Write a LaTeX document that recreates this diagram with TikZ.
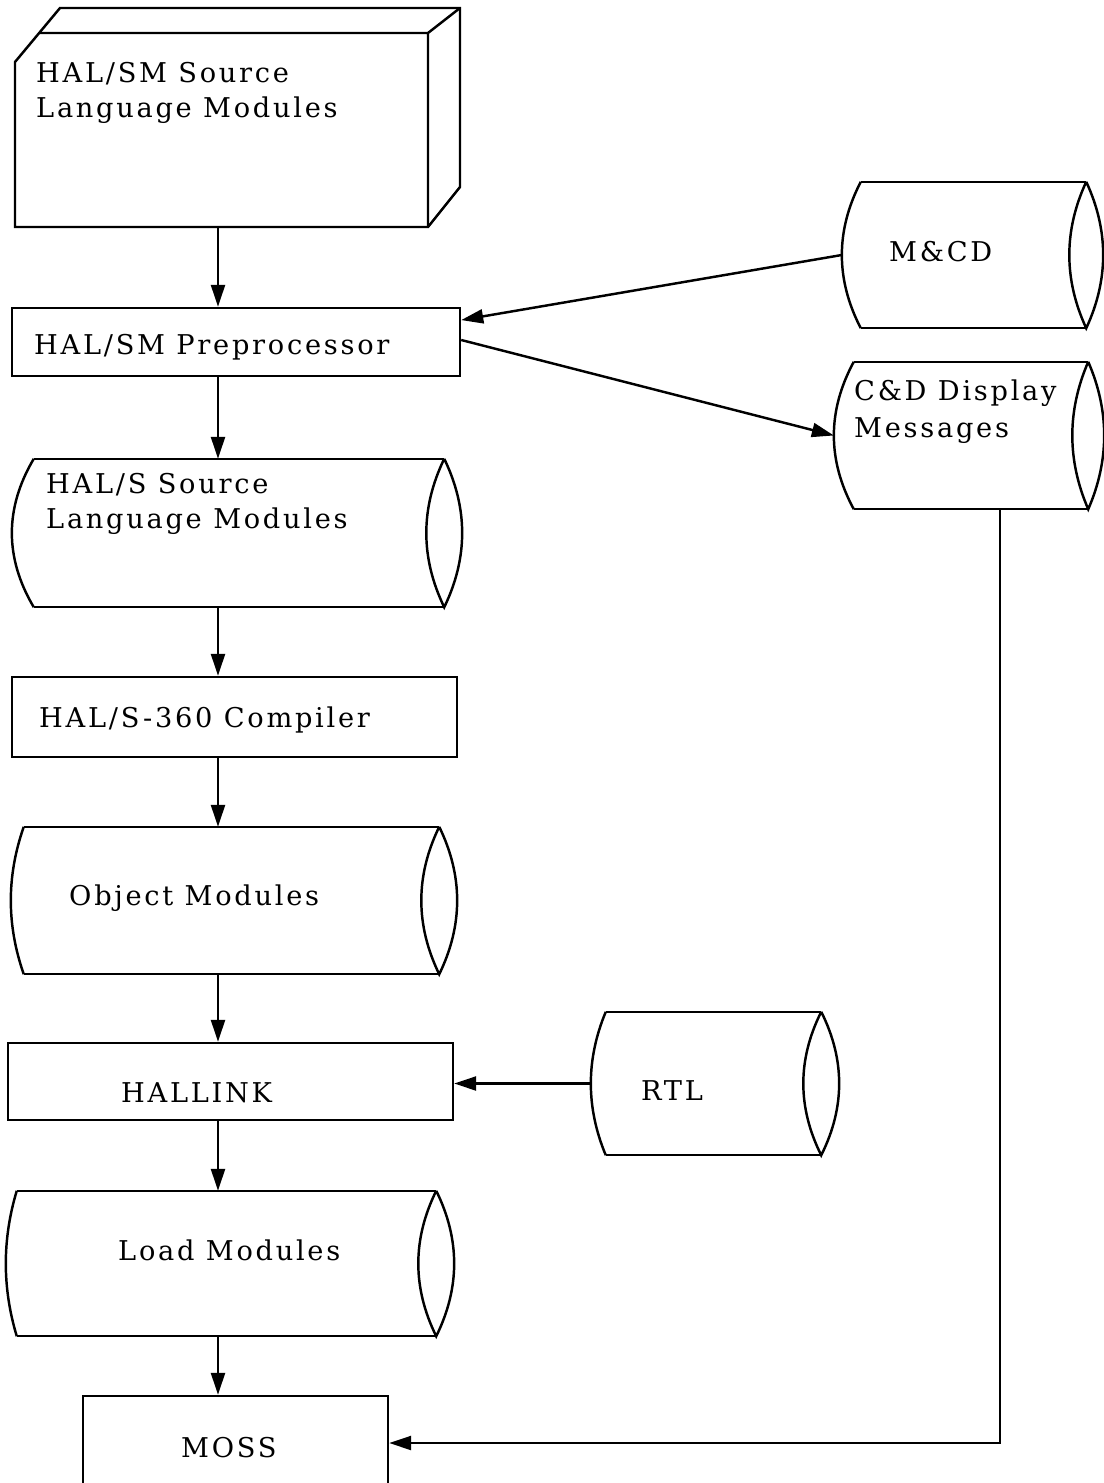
\documentclass[tikz,border=0pt]{standalone}
\usepackage{fontspec}
\setmainfont{DejaVu Serif}[LetterSpace=10]
\usetikzlibrary{arrows.meta,calc,fit}

% one drawing unit = 0.02cm = 0.56693pt
\def\px{0.56693pt}

% drum (magnetic storage) outline around a body node:
% #1 node name, #2 bulge of the left end, #3 half width of the right lens
% each end is a quadratic arc, written as a cubic with 2/3 control points
\newcommand{\drum}[3]{%
  \coordinate (#1-lc) at ([xshift={-2*#2*\px}]#1.west);
  \coordinate (#1-ri) at ([xshift={-2*#3*\px}]#1.east);
  \coordinate (#1-ro) at ([xshift={2*#3*\px}]#1.east);
  \draw (#1.north west) -- (#1.north east) (#1.south west) -- (#1.south east);
  \draw (#1.north west) .. controls ($(#1.north west)!0.6667!(#1-lc)$)
        and ($(#1.south west)!0.6667!(#1-lc)$) .. (#1.south west);
  \draw (#1.north east) .. controls ($(#1.north east)!0.6667!(#1-ri)$)
        and ($(#1.south east)!0.6667!(#1-ri)$) .. (#1.south east)
        .. controls ($(#1.south east)!0.6667!(#1-ro)$)
        and ($(#1.north east)!0.6667!(#1-ro)$) .. (#1.north east);
  \coordinate (#1-left) at ([xshift={-#2*\px}]#1.west);
}

\begin{document}
\begin{tikzpicture}[x=0.02cm, y=-0.02cm, line width=1.4pt,
  txt/.style={anchor=base west, inner sep=0pt, font=\fontsize{15.5}{18}\selectfont},
  procbox/.style={draw, rectangle, inner sep=0pt},
  drumbody/.style={rectangle, inner sep=0pt},
  flow/.style={-{Triangle[length=0.44cm, width=0.28cm]}}]

\useasboundingbox (0,0) rectangle (1103,1483);

% vertical spine of the main flow and the return trunk on the right
\coordinate (spine) at (218,0);
\coordinate (trunk) at (1000,0);

% source deck: a solid block drawn in perspective
\node[drumbody, fit={(15,33) (428,227)}] (deck) {};
\draw (15,227) -- (15,62) -- (60,8) -- (460,8) -- (460,187) -- (428,227) -- cycle;
\draw (40,33) -- (428,33) -- (460,8) (428,33) -- (428,227);
\node[txt] (decktxt1) at (35,83) {HAL/SM Source};
\node[txt] (decktxt2) at (35,118) {Language Modules};

% preprocessor
\node[procbox, fit={(12,308) (460,376)}] (pre) {};
\node[txt] (pretxt) at (33,355) {HAL/SM Preprocessor};

% M&CD drum
\node[drumbody, fit={(862,183) (1085,327)}] (mcd) {};
\drum{mcd}{19}{17}
\node[txt] (mcdtxt) at (888,262) {M\&CD};

% C&D display messages drum
\node[drumbody, fit={(855,363) (1087,508)}] (cdd) {};
\drum{cdd}{20}{16}
\node[txt] (cddtxt1) at (853,400) {C\&D Display};
\node[txt] (cddtxt2) at (853,437) {Messages};

% HAL/S source drum
\node[drumbody, fit={(35,460) (443,606)}] (hals) {};
\drum{hals}{22}{18}
\node[txt] (halstxt1) at (45,493) {HAL/S Source};
\node[txt] (halstxt2) at (45,528) {Language Modules};

% compiler
\node[procbox, fit={(12,677) (457,757)}] (comp) {};
\node[txt] (comptxt) at (38,727) {HAL/S-360 Compiler};

% object modules drum
\node[drumbody, fit={(25,828) (438,973)}] (obj) {};
\drum{obj}{13}{18}
\node[txt] (objtxt) at (68,905) {Object Modules};

% link editor
\node[procbox, fit={(8,1043) (453,1120)}] (link) {};
\node[txt] (linktxt) at (120,1102) {HALLINK};

% runtime library drum
\node[drumbody, fit={(607,1013) (820,1154)}] (rtl) {};
\drum{rtl}{15}{18}
\node[txt] (rtltxt) at (640,1100) {RTL};

% load modules drum
\node[drumbody, fit={(18,1192) (435,1335)}] (load) {};
\drum{load}{11}{18}
\node[txt] (loadtxt) at (117,1260) {Load Modules};

% MOSS
\node[procbox, fit={(83,1396) (388,1490)}] (moss) {};
\node[txt] (mosstxt) at (180,1457) {MOSS};

% connectors
\draw[flow] (deck.south -| spine) -- (pre.north -| spine);
\draw[flow] (mcd-left) -- ([yshift={22*\px}]pre.east);
\draw[flow] ([yshift={2*\px}]pre.east) -- (cdd-left);
\draw[flow] (pre.south -| spine) -- (hals.north -| spine);
\draw[flow] (hals.south -| spine) -- (comp.north -| spine);
\draw[flow] (comp.south -| spine) -- (obj.north -| spine);
\draw[flow] (obj.south -| spine) -- (link.north -| spine);
\draw[flow] (rtl-left) -- (rtl-left -| link.east);
\draw[flow] (link.south -| spine) -- (load.north -| spine);
\draw[flow] (load.south -| spine) -- (moss.north -| spine);
\draw[flow] (cdd.south -| trunk) |- (moss.east);

\end{tikzpicture}
\end{document}
